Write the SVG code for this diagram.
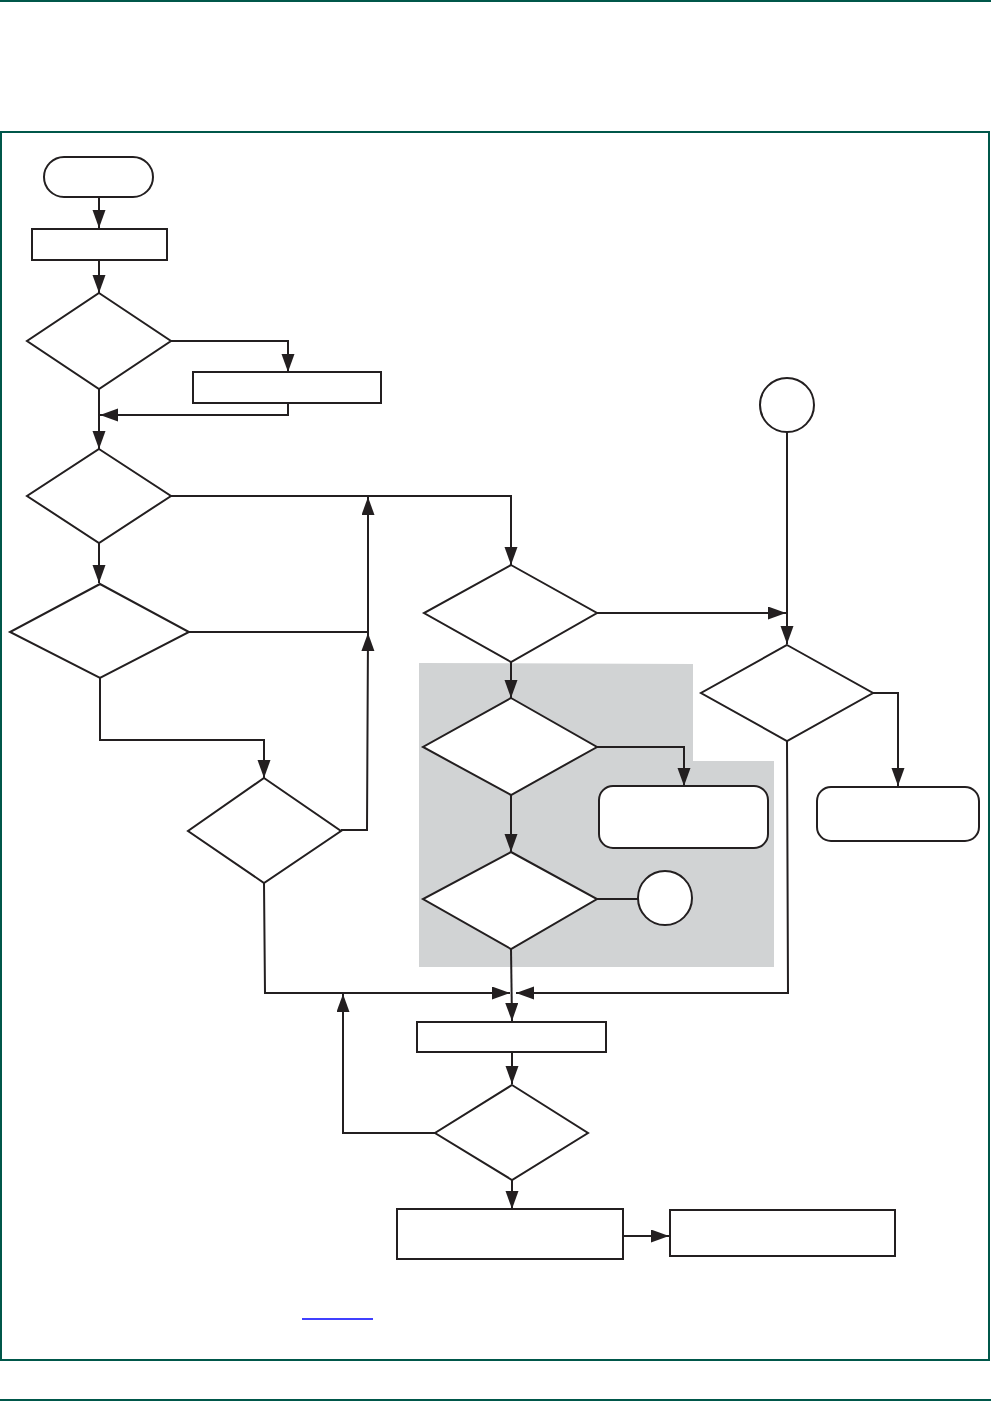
<svg xmlns="http://www.w3.org/2000/svg" width="991" height="1401" viewBox="0 0 991 1401">
<style>
.n{fill:#fff;stroke:#231f20;stroke-width:2}
.c{fill:none;stroke:#231f20;stroke-width:2}
.fr{fill:none;stroke:#00574a;stroke-width:2}
</style>
<defs>
<marker id="ah" markerUnits="userSpaceOnUse" markerWidth="19" markerHeight="14" refX="18" refY="6.5" orient="auto">
<path d="M0,0 L18,6.5 L0,13 Z" fill="#231f20"/>
</marker>
</defs>
<rect width="991" height="1401" fill="#fff"/>
<line x1="0" y1="1" x2="991" y2="1" class="fr"/>
<rect x="1" y="132" width="988" height="1228" class="fr"/>
<line x1="0" y1="1400" x2="991" y2="1400" class="fr"/>
<polygon id="shade" points="419,663 693,664 693,761 774,761 774,967 419,967" fill="#d1d3d4"/>
<line x1="302" y1="1319" x2="373" y2="1319" stroke="#0000ff" stroke-width="1.5"/>
<g id="connectors" class="c">
<path d="M99,198 V228" marker-end="url(#ah)"/>
<path d="M99,260 V293" marker-end="url(#ah)"/>
<path d="M171,341 H288 V372" marker-end="url(#ah)"/>
<path d="M288,404 V415 H100" marker-end="url(#ah)"/>
<path d="M99,389 V449" marker-end="url(#ah)"/>
<path d="M99,543 V583" marker-end="url(#ah)"/>
<path d="M171,496 H511 V565" marker-end="url(#ah)"/>
<path d="M189,632 H368 V497" marker-end="url(#ah)"/>
<path d="M341,830 H367 L368,633" marker-end="url(#ah)"/>
<path d="M100,678 V740 H264 V778" marker-end="url(#ah)"/>
<path d="M264,883 L265,993 H510" marker-end="url(#ah)"/>
<path d="M435,1133 H343 V994" marker-end="url(#ah)"/>
<path d="M511,662 V698" marker-end="url(#ah)"/>
<path d="M597,613 H786" marker-end="url(#ah)"/>
<path d="M787,432 V644" marker-end="url(#ah)"/>
<path d="M873,693 H898 V786" marker-end="url(#ah)"/>
<path d="M787,741 L788,993 H516" marker-end="url(#ah)"/>
<path d="M597,747 H684 V786" marker-end="url(#ah)"/>
<path d="M511,795 V852" marker-end="url(#ah)"/>
<path d="M597,899 H638"/>
<path d="M511,949 L512,1021" marker-end="url(#ah)"/>
<path d="M512,1052 V1084" marker-end="url(#ah)"/>
<path d="M512,1180 V1209" marker-end="url(#ah)"/>
<path d="M623,1236 H669" marker-end="url(#ah)"/>
</g>
<g id="start"><rect x="44" y="157" width="109" height="40" rx="20" class="n"/></g>
<g id="box1"><rect x="32" y="229" width="135" height="31" class="n"/></g>
<g id="dec1"><polygon points="99,293 171,341 99,389 27,341" class="n"/></g>
<g id="box2"><rect x="193" y="372" width="188" height="31" class="n"/></g>
<g id="dec2"><polygon points="99,449 171,496 99,543 27,496" class="n"/></g>
<g id="dec3"><polygon points="100,584 189,632 100,678 10,632" class="n"/></g>
<g id="dec5"><polygon points="264,778 341,831 264,883 188,831" class="n"/></g>
<g id="dec4"><polygon points="511,565 597,613 511,662 424,613" class="n"/></g>
<g id="conn1"><circle cx="787" cy="405" r="27" class="n"/></g>
<g id="dec6"><polygon points="787,645 873,693 787,741 701,693" class="n"/></g>
<g id="end2"><rect x="817" y="787" width="162" height="54" rx="14" class="n"/></g>
<g id="dec7"><polygon points="511,698 597,747 511,795 423,747" class="n"/></g>
<g id="end1"><rect x="599" y="786" width="169" height="62" rx="14" class="n"/></g>
<g id="dec8"><polygon points="511,852 597,899 511,949 423,899" class="n"/></g>
<g id="conn2"><circle cx="665" cy="898" r="27" class="n"/></g>
<g id="box3"><rect x="417" y="1022" width="189" height="30" class="n"/></g>
<g id="dec9"><polygon points="512,1085 588,1133 512,1180 435,1133" class="n"/></g>
<g id="box4"><rect x="397" y="1209" width="226" height="50" class="n"/></g>
<g id="box5"><rect x="670" y="1210" width="225" height="46" class="n"/></g>
</svg>
